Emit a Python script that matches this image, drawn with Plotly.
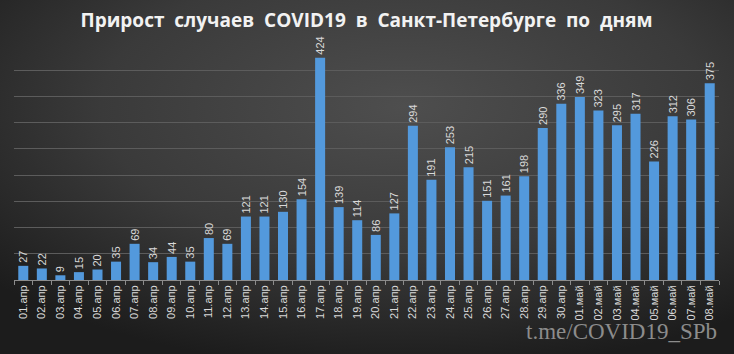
import base64
import plotly.graph_objects as go

dates = [f"{d:02d}.апр" for d in range(1, 31)] + [f"{d:02d}.май" for d in range(1, 9)]
cases = [27, 22, 9, 15, 20, 35, 69, 34, 44, 35,
         80, 69, 121, 121, 130, 154, 424, 139, 114, 86,
         127, 294, 191, 253, 215, 151, 161, 198, 290, 336,
         349, 323, 295, 317, 226, 312, 306, 375]
title_text = "Прирост\u00a0\u00a0случаев\u00a0\u00a0COVID19\u00a0\u00a0в\u00a0\u00a0Санкт-Петербурге\u00a0\u00a0по\u00a0\u00a0дням"
watermark = "t.me/COVID19_SPb"

W, H = 734, 354
ml, mr, mt, mb = 14, 15, 44, 74
pw, ph = W - ml - mr, H - mt - mb

svg = f'''<svg xmlns="http://www.w3.org/2000/svg" width="{W}" height="{H}">
<defs><radialGradient id="g" cx="55%" cy="30%" r="75%">
<stop offset="0%" stop-color="#4e4e4e"/>
<stop offset="55%" stop-color="#3a3a3a"/>
<stop offset="100%" stop-color="#1c1c1c"/>
</radialGradient></defs>
<rect width="{W}" height="{H}" fill="url(#g)"/></svg>'''
src = "data:image/svg+xml;base64," + base64.b64encode(svg.encode()).decode()

fig = go.Figure(go.Bar(
    x=dates, y=cases,
    marker=dict(color="#5399dc", line=dict(width=0)),
    text=cases, textposition="outside", textangle=-90,
    textfont=dict(color="#d9d9d9", size=11, family="Liberation Sans"),
    constraintext="none", cliponaxis=False,
))

fig.update_layout(
    width=W, height=H,
    margin=dict(l=ml, r=mr, t=mt, b=mb),
    paper_bgcolor="#2a2a2a", plot_bgcolor="rgba(0,0,0,0)",
    bargap=0.46,
    showlegend=False,
    title=dict(text=title_text, x=0.5, xref="paper", xanchor="center", y=1 - 20 / H, yref="container",
               yanchor="middle",
               font=dict(family="Open Sans", size=19, color="#f2f2f2", weight="bold")),
    images=[dict(source=src, xref="paper", yref="paper", x=-ml / pw, y=1 + mt / ph,
                 sizex=W / pw, sizey=H / ph, sizing="stretch", xanchor="left", yanchor="top",
                 layer="below")],
    annotations=[dict(text=watermark, xref="paper", yref="paper", x=1, y=-(mb - 8) / ph,
                      xanchor="right", yanchor="bottom", showarrow=False,
                      font=dict(family="Liberation Serif", size=23, color="#8c8c8c"))],
)
fig.update_xaxes(
    type="category", tickangle=-90, tickson="boundaries", ticks="outside", ticklen=4,
    tickcolor="#8c8c8c", showline=True, linecolor="#8c8c8c", linewidth=1,
    tickfont=dict(color="#d9d9d9", size=11, family="Liberation Sans"),
    showgrid=False, range=[-0.5, len(dates) - 0.5],
)
fig.update_yaxes(
    range=[0, 450], dtick=50, showgrid=True, gridcolor="#5c5c5c", gridwidth=1,
    showticklabels=False, zeroline=False, fixedrange=True,
)
fig.write_html("out.html")
